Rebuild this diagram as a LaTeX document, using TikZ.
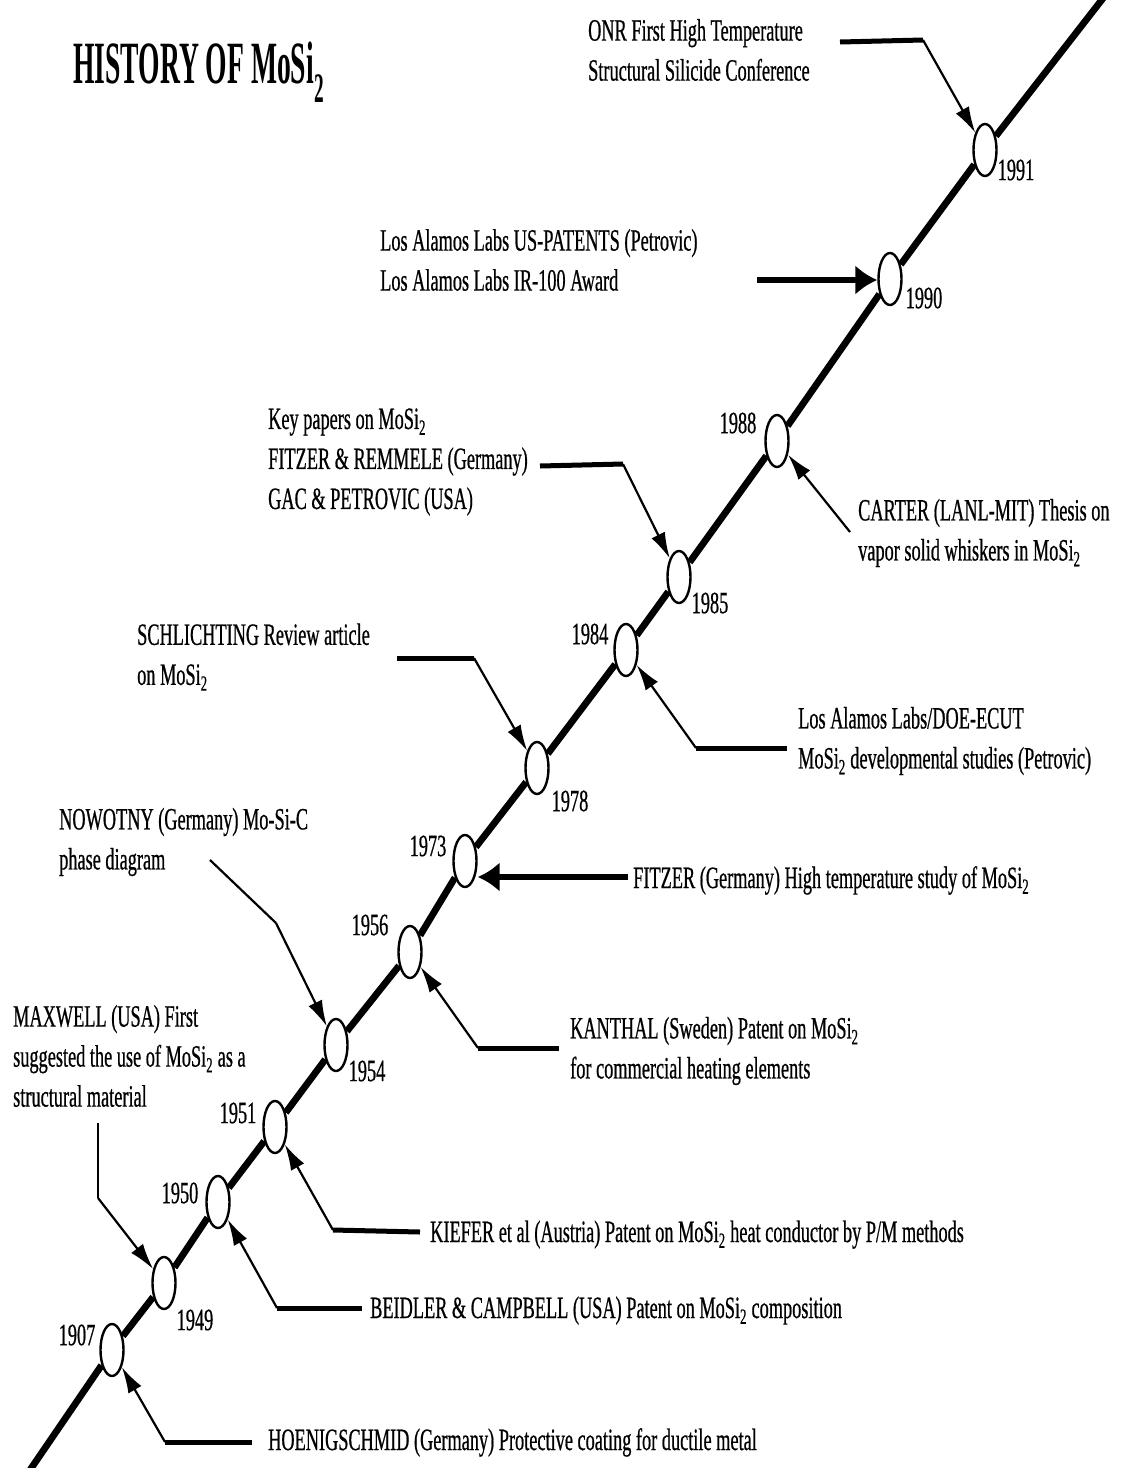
\documentclass[tikz,border=0pt]{standalone}
\usepackage{fontspec}
\setmainfont{Liberation Serif}[FakeStretch=0.59,FakeBold=0.6]
\newfontfamily\titlefont{Liberation Serif}[FakeStretch=0.46]
\usetikzlibrary{shapes.geometric,arrows.meta}

\newcommand{\mosi}{MoSi\textsubscript{2}}

\tikzset{
  yr/.style={ellipse,draw,line width=2.4pt,fill=white,minimum width=23pt,minimum height=52pt,inner sep=0pt},
  yrlab/.style={inner sep=0pt,font=\fontsize{31}{31}\selectfont},
  txt/.style={inner sep=0pt,align=left,font=\fontsize{31}{40}\selectfont},
  spine/.style={line width=6.8pt},
  stem/.style={line width=5pt},
  lead/.style={line width=2.2pt,-{Latex[length=26pt,width=15pt]}},
  bigarrow/.style={line width=5.5pt,-{Latex[length=22pt,width=30pt]}}
}

\begin{document}
\begin{tikzpicture}[x=1pt,y=-1pt]
        \useasboundingbox (0,0) rectangle (1139,1468);

        % title
        \node[anchor=base west,inner sep=0pt,font=\titlefont\bfseries\fontsize{60}{60}\selectfont] (title) at (73,83) {HISTORY OF \mosi};

        % the years on the line
        \foreach \yr/\px/\py in {1907/112/1350,1949/164/1283,1950/218/1202,1951/275/1127,1954/336/1045,1956/410/952,1973/465/861,1978/537/768,1984/626/650,1985/679/577,1988/777/441,1990/890/279,1991/985/150}
        \node[yr] (e\yr) at (\px,\py) {};
        \foreach \yr/\px/\py in {1907/77/1335,1949/195/1320,1950/180/1193,1951/238/1113,1954/367/1071,1956/370/925,1973/428/846,1978/570/801,1984/590/634,1985/710/603,1988/738/423,1990/924/298,1991/1016/170}
        \node[yrlab] (l\yr) at (\px,\py) {\yr};

        \coordinate (bot) at (30,1470);
        \coordinate (top) at (1104,-3);
        \foreach \a/\b in {bot/e1907,e1907/e1949,e1949/e1950,e1950/e1951,e1951/e1954,e1954/e1956,e1956/e1973,e1973/e1978,e1978/e1984,e1984/e1985,e1985/e1988,e1988/e1990,e1990/e1991,e1991/top}
        \draw[spine] (\a) -- (\b);

        % texts
        \node[txt,anchor=west] (onr) at (588,50) {ONR First High Temperature\\Structural Silicide Conference};
        \node[txt,anchor=west] (patents) at (380,260) {Los Alamos Labs US-PATENTS (Petrovic)\\Los Alamos Labs IR-100 Award};
        \node[txt,anchor=west] (keypap) at (268,462) {Key papers on \mosi\\FITZER \& REMMELE (Germany)\\GAC \& PETROVIC (USA)};
        \node[txt,anchor=west] (carter) at (858,533) {CARTER (LANL-MIT) Thesis on\\vapor solid whiskers in \mosi};
        \node[txt,anchor=west] (schl) at (137,657) {SCHLICHTING Review article\\on \mosi};
        \node[txt,anchor=west] (doe) at (798,741) {Los Alamos Labs/DOE-ECUT\\\mosi\ developmental studies (Petrovic)};
        \node[txt,anchor=west] (nowotny) at (59,842) {NOWOTNY (Germany) Mo-Si-C\\phase diagram};
        \node[txt,anchor=base west] (fitzer) at (633,888) {FITZER (Germany) High temperature study of \mosi};
        \node[txt,anchor=west] (kanthal) at (570,1051) {KANTHAL (Sweden) Patent on \mosi\\for commercial heating elements};
        \node[txt,anchor=west] (maxwell) at (13,1056) {MAXWELL (USA) First\\suggested the use of \mosi\ as a\\structural material};
        \node[txt,anchor=base west] (kiefer) at (430,1242) {KIEFER et al (Austria) Patent on \mosi\ heat conductor by P/M methods};
        \node[txt,anchor=base west] (beidler) at (370,1318) {BEIDLER \& CAMPBELL (USA) Patent on \mosi\ composition};
        \node[txt,anchor=base west] (hoenig) at (268,1450) {HOENIGSCHMID (Germany) Protective coating for ductile metal};

        % arrows to the years
        \coordinate (onr-s) at (840,42);
        \coordinate (onr-b) at (923,40);
        \draw[stem] (onr-s) -- (onr-b);
        \draw[lead] (onr-b) -- (e1991);

        \coordinate (patents-s) at (757,280);
        \draw[bigarrow] (patents-s) -- (patents-s -| e1990.west);

        \coordinate (keypap-s) at (540,466);
        \coordinate (keypap-b) at (623,464);
        \draw[stem] (keypap-s) -- (keypap-b);
        \draw[lead] (keypap-b) -- (e1985);

        \coordinate (carter-s) at (850,532);
        \draw[lead] (carter-s) -- (e1988);

        \coordinate (schl-s) at (397,658);
        \coordinate (schl-b) at (474,658);
        \draw[stem] (schl-s) -- (schl-b);
        \draw[lead] (schl-b) -- (e1978);

        \coordinate (doe-s) at (787,748);
        \coordinate (doe-b) at (696,748);
        \draw[stem] (doe-s) -- (doe-b);
        \draw[lead] (doe-b) -- (e1984);

        \coordinate (nowotny-s) at (210,860);
        \coordinate (nowotny-b) at (276,923);
        \draw[line width=2.2pt] (nowotny-s) -- (nowotny-b);
        \draw[lead] (nowotny-b) -- (e1954);

        \coordinate (fitzer-s) at (628,877);
        \draw[bigarrow] (fitzer-s) -- (fitzer-s -| e1973.east);

        \coordinate (kanthal-s) at (559,1048);
        \coordinate (kanthal-b) at (478,1048);
        \draw[stem] (kanthal-s) -- (kanthal-b);
        \draw[lead] (kanthal-b) -- (e1956);

        \coordinate (maxwell-s) at (98,1123);
        \coordinate (maxwell-b) at (98,1198);
        \draw[line width=2.2pt] (maxwell-s) -- (maxwell-b);
        \draw[lead] (maxwell-b) -- (e1949);

        \coordinate (kiefer-s) at (420,1232);
        \coordinate (kiefer-b) at (333,1230);
        \draw[stem] (kiefer-s) -- (kiefer-b);
        \draw[lead] (kiefer-b) -- (e1951);

        \coordinate (beidler-s) at (362,1308);
        \coordinate (beidler-b) at (277,1308);
        \draw[stem] (beidler-s) -- (beidler-b);
        \draw[lead] (beidler-b) -- (e1950);

        \coordinate (hoenig-s) at (252,1442);
        \coordinate (hoenig-b) at (165,1442);
        \draw[stem] (hoenig-s) -- (hoenig-b);
        \draw[lead] (hoenig-b) -- (e1907);
\end{tikzpicture}
\end{document}
